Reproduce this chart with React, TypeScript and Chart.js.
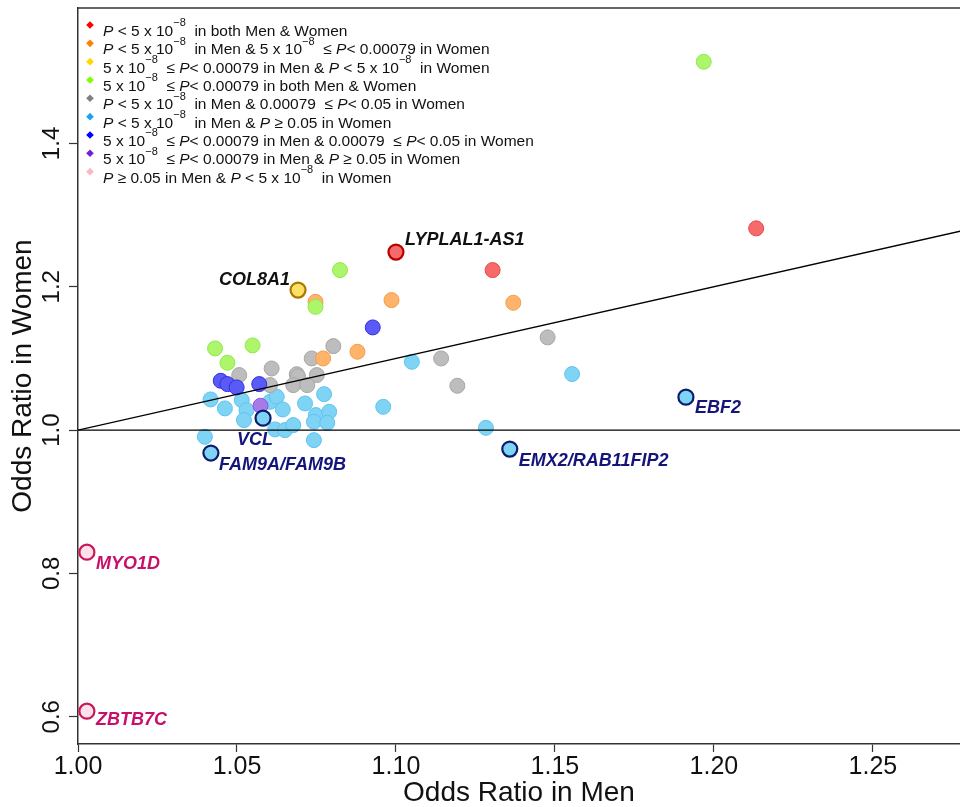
import React, { useEffect, useRef } from "react";
import { Chart, registerables } from "chart.js";

Chart.register(...registerables);

const FONT = '"Liberation Sans", Arial, Helvetica, sans-serif';

// ---------- axis ticks ----------
const xTickValues = [1.0, 1.05, 1.1, 1.15, 1.2, 1.25];
const yTickValues = [0.6, 0.8, 1.0, 1.2, 1.4];
const xAxisTitle = "Odds Ratio in Men";
const yAxisTitle = "Odds Ratio in Women";

// ---------- legend (markup: *italic*, ^superscript^) ----------
const categoryLabels = [
  "*P* < 5 x 10^−8^  in both Men & Women",
  "*P* < 5 x 10^−8^  in Men & 5 x 10^−8^  ≤ *P*< 0.00079 in Women",
  "5 x 10^−8^  ≤ *P*< 0.00079 in Men & *P* < 5 x 10^−8^  in Women",
  "5 x 10^−8^  ≤ *P*< 0.00079 in both Men & Women",
  "*P* < 5 x 10^−8^  in Men & 0.00079  ≤ *P*< 0.05 in Women",
  "*P* < 5 x 10^−8^  in Men & *P* ≥ 0.05 in Women",
  "5 x 10^−8^  ≤ *P*< 0.00079 in Men & 0.00079  ≤ *P*< 0.05 in Women",
  "5 x 10^−8^  ≤ *P*< 0.00079 in Men & *P* ≥ 0.05 in Women",
  "*P* ≥ 0.05 in Men & *P* < 5 x 10^−8^  in Women",
];

// ---------- series (odds ratios) ----------
const redMen = [1.2133, 1.1304];
const redWomen = [1.2815, 1.2233];

const orangeMen = [1.0747, 1.0986, 1.0879, 1.0771, 1.1369];
const orangeWomen = [1.179, 1.1814, 1.1093, 1.1, 1.1777];

const yellowMen: number[] = [];
const yellowWomen: number[] = [];

const greenMen = [1.1968, 1.0824, 1.0747, 1.0431, 1.0549, 1.047];
const greenWomen = [1.514, 1.2233, 1.172, 1.114, 1.1182, 1.094];

const grayMen = [1.0803, 1.0735, 1.0609, 1.0507, 1.0688, 1.0692, 1.0751, 1.0604, 1.0677, 1.0721, 1.1142, 1.1193, 1.1477];
const grayWomen = [1.1172, 1.1, 1.086, 1.0768, 1.078, 1.075, 1.0768, 1.0628, 1.0628, 1.0628, 1.1, 1.0619, 1.1294];

const cyanMen = [
  1.0417, 1.0462, 1.0515, 1.053, 1.0522, 1.0604, 1.0625, 1.0644, 1.062, 1.0651, 1.0677, 1.0714,
  1.0774, 1.0748, 1.0742, 1.079, 1.0784, 1.0742, 1.0399, 1.096, 1.105, 1.1554, 1.1283,
];
const cyanWomen = [
  1.0428, 1.0303, 1.0419, 1.0279, 1.014, 1.0395, 1.0465, 1.0288, 1.001, 1.0, 1.007, 1.0372,
  1.0502, 1.021, 1.0116, 1.0256, 1.0102, 0.986, 0.9907, 1.0325, 1.0953, 1.0782, 1.0032,
];

const blueMen = [1.0927, 1.0449, 1.047, 1.0499, 1.057];
const blueWomen = [1.1433, 1.0688, 1.0642, 1.0596, 1.0642];

const purpleMen = [1.0574];
const purpleWomen = [1.034];

const pinkMen: number[] = [];
const pinkWomen: number[] = [];

// ---------- highlighted (labelled) loci ----------
const labeledGenes = ["LYPLAL1-AS1", "COL8A1", "EBF2", "EMX2/RAB11FIP2", "VCL", "FAM9A/FAM9B", "MYO1D", "ZBTB7C"];
const labeledMen = [1.1, 1.0692, 1.1912, 1.1358, 1.0582, 1.0418, 1.0028, 1.0028];
const labeledWomen = [1.2484, 1.1954, 1.046, 0.9735, 1.0167, 0.968, 0.8297, 0.6078];
const labeledCategory = [0, 2, 5, 5, 5, 5, 8, 8];

// ---------- reference lines ----------
const nullLineMen = [1.0, 1.28];
const nullLineWomen = [1.0, 1.0];
const equalLineMen = [1.0, 1.28];
const equalLineWomen = [1.0, 1.28];

// ---------- styles ----------
const legendColors = ["#FF0000", "#FF7F00", "#FFD700", "#7FFF00", "#7F7F7F", "#1AA3F0", "#0000FF", "#7020D8", "#FFB6C1"];
const pointFills = ["#F76A6A", "#FFB46C", "#FFE066", "#ADF56B", "#BDBDBD", "#7FD3F4", "#5A5AF6", "#A67AE8", "#FCE2E8"];
const pointBorders = ["#E84848", "#F59B48", "#E0B000", "#8FEA4A", "#A6A6A6", "#5EC4EE", "#3030E0", "#8A58DC", "#C8185A"];
const labeledBorders = ["#B80000", "#A87800", "#0A1C6C", "#0A1C6C", "#0A1C6C", "#0A1C6C", "#C8185A", "#C8185A"];
const labeledTextColors = ["#111111", "#111111", "#14147A", "#14147A", "#14147A", "#14147A", "#C8106A", "#C8106A"];
// [dx, dy, align]
const labeledPlacement: [number, number, CanvasTextAlign][] = [
  [9, -12, "left"],
  [-8, -10, "right"],
  [9, 11, "left"],
  [9, 12, "left"],
  [-8, 22, "center"],
  [8, 12, "left"],
  [9, 12, "left"],
  [9, 9, "left"],
];
const categoryDrawOrder = [3, 6, 4, 5, 9, 10, 8, 7, 2];

const categoryMen = [redMen, orangeMen, yellowMen, greenMen, grayMen, cyanMen, blueMen, purpleMen, pinkMen];
const categoryWomen = [redWomen, orangeWomen, yellowWomen, greenWomen, grayWomen, cyanWomen, blueWomen, purpleWomen, pinkWomen];

function zip(xs: number[], ys: number[]) {
  return xs.map((x, i) => ({ x, y: ys[i] }));
}

function drawRich(ctx: CanvasRenderingContext2D, text: string, x: number, y: number, size: number) {
  const parts = text.split(/(\*[^*]+\*|\^[^^]+\^)/).filter((p) => p.length > 0);
  let cx = x;
  for (const p of parts) {
    let s = p;
    let dy = 0;
    if (p.startsWith("*") && p.endsWith("*") && p.length > 1) {
      s = p.slice(1, -1);
      ctx.font = `italic ${size}px ${FONT}`;
    } else if (p.startsWith("^") && p.endsWith("^") && p.length > 1) {
      s = p.slice(1, -1);
      ctx.font = `${Math.round(size * 0.7)}px ${FONT}`;
      dy = -size * 0.62;
    } else {
      ctx.font = `${size}px ${FONT}`;
    }
    ctx.fillText(s, cx, y + dy);
    cx += ctx.measureText(s).width;
  }
}

const overlayPlugin = {
  id: "overlay",
  afterDatasetsDraw(chart: any) {
    const { ctx, chartArea, scales } = chart;
    const xs = scales.x;
    const ys = scales.y;
    ctx.save();

    // top frame line
    ctx.strokeStyle = "#333";
    ctx.lineWidth = 1.5;
    ctx.beginPath();
    ctx.moveTo(chartArea.left, chartArea.top);
    ctx.lineTo(chartArea.right, chartArea.top);
    ctx.stroke();

    // y tick labels (parallel to axis)
    ctx.fillStyle = "#111";
    ctx.font = `24px ${FONT}`;
    ctx.textAlign = "center";
    ctx.textBaseline = "alphabetic";
    yTickValues.forEach((v) => {
      const py = ys.getPixelForValue(v);
      ctx.save();
      ctx.translate(59, py);
      ctx.rotate(-Math.PI / 2);
      ctx.fillText(v.toFixed(1), 0, 0);
      ctx.restore();
    });

    // gene labels
    ctx.textBaseline = "middle";
    ctx.font = `italic bold 18px ${FONT}`;
    labeledGenes.forEach((g, i) => {
      const px = xs.getPixelForValue(labeledMen[i]);
      const py = ys.getPixelForValue(labeledWomen[i]);
      const [dx, dy, align] = labeledPlacement[i];
      ctx.fillStyle = labeledTextColors[i];
      ctx.textAlign = align;
      ctx.fillText(g, px + dx, py + dy);
    });

    // legend
    const lx = chartArea.left + 12;
    const ly0 = chartArea.top + 17;
    const step = 18.33;
    ctx.textAlign = "left";
    ctx.textBaseline = "alphabetic";
    categoryLabels.forEach((lab, i) => {
      const my = ly0 + i * step;
      ctx.fillStyle = legendColors[i];
      ctx.beginPath();
      ctx.moveTo(lx, my - 3.8);
      ctx.lineTo(lx + 3.8, my);
      ctx.lineTo(lx, my + 3.8);
      ctx.lineTo(lx - 3.8, my);
      ctx.closePath();
      ctx.fill();
      ctx.fillStyle = "#111";
      drawRich(ctx, lab, lx + 13, my + 11, 15.5);
    });

    ctx.restore();
  },
};

export default function App() {
  const canvasRef = useRef<HTMLCanvasElement | null>(null);

  useEffect(() => {
    const canvas = canvasRef.current;
    if (!canvas) return;

    const datasets: any[] = [];
    // reference lines (on top)
    datasets.push({
      label: "null",
      data: zip(nullLineMen, nullLineWomen),
      showLine: true,
      borderColor: "#000",
      borderWidth: 1.2,
      pointRadius: 0,
      order: 0,
    });
    datasets.push({
      label: "equal",
      data: zip(equalLineMen, equalLineWomen),
      showLine: true,
      borderColor: "#000",
      borderWidth: 1.4,
      pointRadius: 0,
      order: 0,
    });
    categoryLabels.forEach((lab, i) => {
      datasets.push({
        label: lab,
        data: zip(categoryMen[i], categoryWomen[i]),
        backgroundColor: pointFills[i],
        borderColor: pointBorders[i],
        borderWidth: 1,
        pointRadius: 7.5,
        order: categoryDrawOrder[i],
      });
    });
    datasets.push({
      label: "labelled",
      data: zip(labeledMen, labeledWomen),
      backgroundColor: labeledCategory.map((c) => pointFills[c]),
      borderColor: labeledBorders,
      borderWidth: 2.2,
      pointRadius: 7.5,
      order: 1,
    });

    const chart = new Chart(canvas, {
      type: "scatter",
      data: { datasets },
      plugins: [overlayPlugin],
      options: {
        responsive: false,
        animation: false,
        events: [],
        layout: { autoPadding: false, padding: { top: 8, right: 0, left: 0, bottom: 0 } },
        plugins: { legend: { display: false }, tooltip: { enabled: false } },
        scales: {
          x: {
            type: "linear",
            min: 1.0,
            max: 1.2774,
            afterBuildTicks: (scale: any) => {
              scale.ticks = xTickValues.map((v) => ({ value: v }));
            },
            afterFit: (scale: any) => {
              scale.height = 63;
              scale.paddingLeft = 0;
              scale.paddingRight = 0;
            },
            grid: { display: true, drawOnChartArea: false, drawTicks: true, tickLength: 8, tickColor: "#333", tickWidth: 1.2 },
            border: { display: true, color: "#333", width: 1.5 },
            ticks: {
              color: "#111",
              font: { family: FONT, size: 25 },
              padding: 0,
              maxRotation: 0,
              autoSkip: false,
              callback: (v: any) => Number(v).toFixed(2),
            },
            title: {
              display: true,
              text: xAxisTitle,
              color: "#111",
              font: { family: FONT, size: 28, lineHeight: 1 },
              padding: 0,
            },
          },
          y: {
            type: "linear",
            min: 0.562,
            max: 1.589,
            afterBuildTicks: (scale: any) => {
              scale.ticks = yTickValues.map((v) => ({ value: v }));
            },
            afterFit: (scale: any) => {
              scale.width = 78;
              scale.paddingTop = 0;
              scale.paddingBottom = 0;
            },
            grid: { display: true, drawOnChartArea: false, drawTicks: true, tickLength: 9, tickColor: "#333", tickWidth: 1.2 },
            border: { display: true, color: "#333", width: 1.5 },
            ticks: { display: false },
            title: {
              display: true,
              text: yAxisTitle,
              color: "#111",
              font: { family: FONT, size: 28, lineHeight: 1 },
              padding: { top: 9, bottom: 0 },
            },
          },
        },
      },
    } as any);

    return () => chart.destroy();
  }, []);

  return (
    <div style={{ position: "absolute", left: 0, top: 0, width: 960, height: 807, background: "#fff" }}>
      <canvas ref={canvasRef} width={960} height={807} style={{ display: "block" }} />
    </div>
  );
}
